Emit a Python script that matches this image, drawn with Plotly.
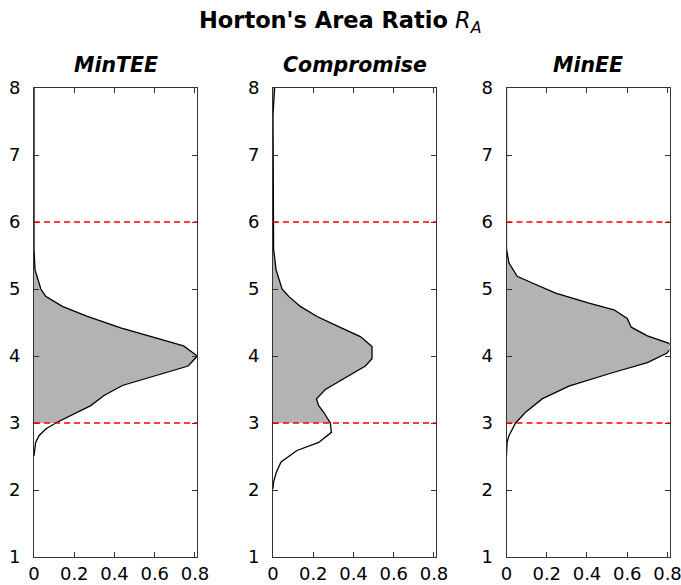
import numpy as np
import plotly.graph_objects as go

# ---- data (density curves) ----
titles = ["MinTEE", "Compromise", "MinEE"]

mintee_y = [8.0, 5.6, 5.29, 5.09, 5.0, 4.89, 4.74, 4.59, 4.42, 4.15, 4.0, 3.85,
            3.56, 3.41, 3.26, 3.0, 2.91, 2.81, 2.71, 2.51]
mintee_x = [0, 0, 0.005, 0.025, 0.034, 0.058, 0.141, 0.265, 0.431, 0.743, 0.812, 0.766,
            0.439, 0.348, 0.282, 0.108, 0.058, 0.025, 0.008, 0]

comp_y = [8.0, 7.8, 7.6, 5.6, 5.29, 5.0, 4.89, 4.74, 4.59, 4.45, 4.29, 4.14, 3.96,
          3.85, 3.75, 3.60, 3.50, 3.36, 3.26, 3.16, 3.0, 2.86, 2.71, 2.59, 2.42,
          2.27, 2.12, 2.02]
comp_x = [0.008, 0.003, 0, 0.003, 0.015, 0.045, 0.078, 0.136, 0.219, 0.318, 0.434,
          0.492, 0.492, 0.459, 0.401, 0.318, 0.260, 0.216, 0.227, 0.252, 0.285,
          0.290, 0.227, 0.119, 0.040, 0.017, 0.003, 0]

minee_y = [8.0, 5.6, 5.39, 5.19, 5.09, 4.94, 4.79, 4.69, 4.56, 4.43, 4.30, 4.19,
           4.12, 4.04, 3.90, 3.75, 3.55, 3.36, 3.16, 3.0, 2.81, 2.71, 2.51]
minee_x = [0, 0, 0.012, 0.053, 0.128, 0.244, 0.410, 0.534, 0.600, 0.620, 0.700,
           0.808, 0.82, 0.796, 0.700, 0.526, 0.310, 0.177, 0.095, 0.045, 0.012,
           0.003, 0]

ref_lines = [3, 6]
fill_from = 3
x_ticks = [0, 0.2, 0.4, 0.6, 0.8]
x_tick_text = ["0", "0.2", "0.4", "0.6", "0.8"]
y_ticks = [1, 2, 3, 4, 5, 6, 7, 8]

curves = [(mintee_x, mintee_y), (comp_x, comp_y), (minee_x, minee_y)]

# ---- layout geometry ----
W, H = 681, 585
x_doms = [(34, 197), (273, 436), (506.5, 669.5)]
y_top, y_bot = 88, 557
FONT = "DejaVu Sans"

fig = go.Figure()
for i, (cx, cy) in enumerate(curves):
    n = "" if i == 0 else str(i + 1)
    xa, ya = "x" + n, "y" + n
    cx = np.asarray(cx, float)
    cy = np.asarray(cy, float)
    m = cy >= fill_from
    fx = np.concatenate([[0.0], cx[m], [0.0]])
    fy = np.concatenate([[cy[m].max()], cy[m], [fill_from]])
    fig.add_trace(go.Scatter(x=fx, y=fy, fill="toself", fillcolor="#b3b3b3",
                             line=dict(width=0), mode="lines", xaxis=xa, yaxis=ya,
                             showlegend=False, hoverinfo="skip"))
    fig.add_trace(go.Scatter(x=cx, y=cy, mode="lines",
                             line=dict(color="black", width=1.3),
                             xaxis=xa, yaxis=ya, showlegend=False))
    for r in ref_lines:
        fig.add_shape(type="line", xref=xa + " domain", yref=ya, x0=0, x1=1,
                      y0=r, y1=r, line=dict(color="#ff0000", width=1.5, dash="6px,4px"))
    d0, d1 = x_doms[i]
    ax_common = dict(showline=True, linecolor="#333", linewidth=1, mirror="ticks",
                     ticks="inside", ticklen=5, tickcolor="#333", showgrid=False,
                     zeroline=False, automargin=False, ticklabeloverflow="allow",
                     tickfont=dict(family=FONT, size=18, color="black"))
    fig.layout["xaxis" + n] = dict(domain=[d0 / W, d1 / W], range=[0, 0.81],
                                   tickvals=x_ticks, ticktext=x_tick_text,
                                   anchor=ya, **ax_common)
    fig.layout["yaxis" + n] = dict(domain=[1 - y_bot / H, 1 - y_top / H], range=[1, 8],
                                   tickvals=y_ticks, anchor=xa, ticklabelstandoff=9,
                                   **ax_common)
    fig.add_annotation(text="<b><i>%s</i></b>" % titles[i], x=(d0 + d1) / 2 / W,
                       y=1 - 65 / H, xref="paper", yref="paper", showarrow=False,
                       xanchor="center", yanchor="middle",
                       font=dict(family=FONT, size=20.5, color="black"))

fig.add_annotation(text="<b>Horton's Area Ratio</b> <i>R<sub>A</sub></i>",
                   x=0.5, y=1 - 22 / H, xref="paper", yref="paper", showarrow=False,
                   xanchor="center", yanchor="middle",
                   font=dict(family=FONT, size=22.5, color="black"))

fig.update_layout(width=W, height=H, margin=dict(l=0, r=0, t=0, b=0, autoexpand=False),
                  plot_bgcolor="white", paper_bgcolor="white",
                  font=dict(family=FONT, color="black"))
fig.write_html("out.html")
